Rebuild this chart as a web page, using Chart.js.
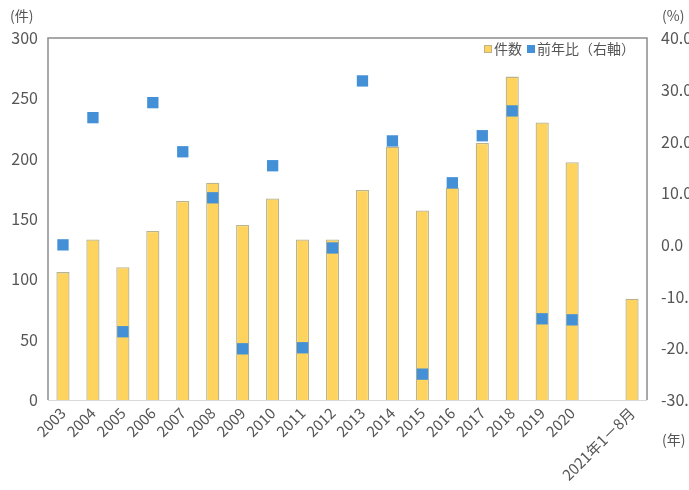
<!DOCTYPE html>
<html><head><meta charset="utf-8">
<script src="https://cdn.jsdelivr.net/npm/chart.js@4"></script>
<style>html,body{margin:0;padding:0;background:#fff;overflow:hidden}#wrap{width:689px;height:490px;position:relative}</style>
</head><body><div id="wrap"><canvas id="c" width="689" height="490"></canvas></div>
<script>
const categories = ['2003','2004','2005','2006','2007','2008','2009','2010','2011','2012','2013','2014','2015','2016','2017','2018','2019','2020','','2021年1－8月'];
const counts = [106,133,110,140,165,180,145,167,133,133,174,210,157,176,213,268,230,197,null,84];
const yoy = [0.0,24.6,-16.8,27.5,18.0,9.1,-20.1,15.3,-19.9,-0.6,31.7,20.1,-25.0,12.0,21.1,25.9,-14.3,-14.5,null,null];
const leftTicks = [0,50,100,150,200,250,300];
const rightTicks = [-30,-20,-10,0,10,20,30,40];
const seriesNames = ['件数','前年比（右軸）'];
const unitLeft = '(件)', unitRight = '(%)', unitX = '(年)';

const FONT = "'Noto Sans CJK JP', 'Noto Sans', sans-serif";
const TXT = '#555555';
const BAR = '#FFD45E', BARB = '#B9B48E', DOT = '#4390D6';

const overlay = {
  id:'overlay',
  afterDraw(chart){
    const {ctx, chartArea:a} = chart;
    ctx.save();
    ctx.strokeStyle = '#8C8C8C'; ctx.lineWidth = 1.5;
    ctx.beginPath();
    ctx.moveTo(a.left, a.bottom); ctx.lineTo(a.left, a.top); ctx.lineTo(a.right, a.top); ctx.lineTo(a.right, a.bottom);
    ctx.stroke();
    ctx.strokeStyle = '#D9D9D9'; ctx.lineWidth = 1;
    ctx.beginPath(); ctx.moveTo(a.left, a.bottom+0.5); ctx.lineTo(a.right, a.bottom+0.5); ctx.stroke();
    ctx.fillStyle = TXT; ctx.font = '14px ' + FONT; ctx.textBaseline = 'middle';
    ctx.textAlign = 'left';
    ctx.fillText(unitLeft, 10, 16);
    ctx.fillText(unitRight, 662, 16);
    ctx.fillText(unitX, 662, 440);
    ctx.font = '14px ' + FONT;
    let x = 484, y = 49;
    const cols = [BAR, DOT];
    seriesNames.forEach((n,i)=>{
      ctx.fillStyle = cols[i];
      if(i===0){ctx.fillRect(x, y-4, 8, 8); ctx.strokeStyle=BARB; ctx.lineWidth=1; ctx.strokeRect(x+0.5,y-3.5,7,7);} else ctx.fillRect(x, y-4, 8, 8);
      ctx.fillStyle = TXT;
      ctx.fillText(n, x+10, y);
      x += 10 + ctx.measureText(n).width + 5;
    });
    ctx.restore();
  }
};

new Chart(document.getElementById('c'), {
  data: {
    labels: categories,
    datasets: [
      {type:'line', label: seriesNames[1], data: yoy, yAxisID:'y2', showLine:false,
       pointStyle:'rect', pointRadius:8, pointHoverRadius:8, backgroundColor:DOT, borderColor:DOT, borderWidth:0, order:1},
      {type:'bar', label: seriesNames[0], data: counts, yAxisID:'y', backgroundColor:BAR, borderColor:BARB, borderWidth:1.3,
       categoryPercentage:1, barPercentage:0.44, order:2}
    ]
  },
  options: {
    responsive:false, animation:false, devicePixelRatio:1,
    layout:{padding:{top:38,left:0,right:0,bottom:0}},
    plugins:{legend:{display:false}, tooltip:{enabled:false}},
    scales:{
      x:{grid:{display:false, drawTicks:false}, border:{display:false},
         ticks:{color:TXT, font:{family:FONT,size:15}, maxRotation:45, minRotation:45, autoSkip:false, padding:4},
         afterFit(s){s.height = 90;}},
      y:{position:'left', min:0, max:300, afterBuildTicks(s){s.ticks = leftTicks.map(v=>({value:v}));},
         grid:{display:false, drawTicks:false}, border:{display:false},
         ticks:{color:TXT, font:{family:FONT,size:16}, padding:10},
         afterFit(s){s.width = 48;}},
      y2:{position:'right', min:-30, max:40, afterBuildTicks(s){s.ticks = rightTicks.map(v=>({value:v}));},
         grid:{display:false, drawTicks:false}, border:{display:false},
         ticks:{color:TXT, font:{family:FONT,size:16}, padding:14, callback:v=>v.toFixed(1)},
         afterFit(s){s.width = 42;}}
    }
  },
  plugins:[overlay]
});
</script></body></html>
